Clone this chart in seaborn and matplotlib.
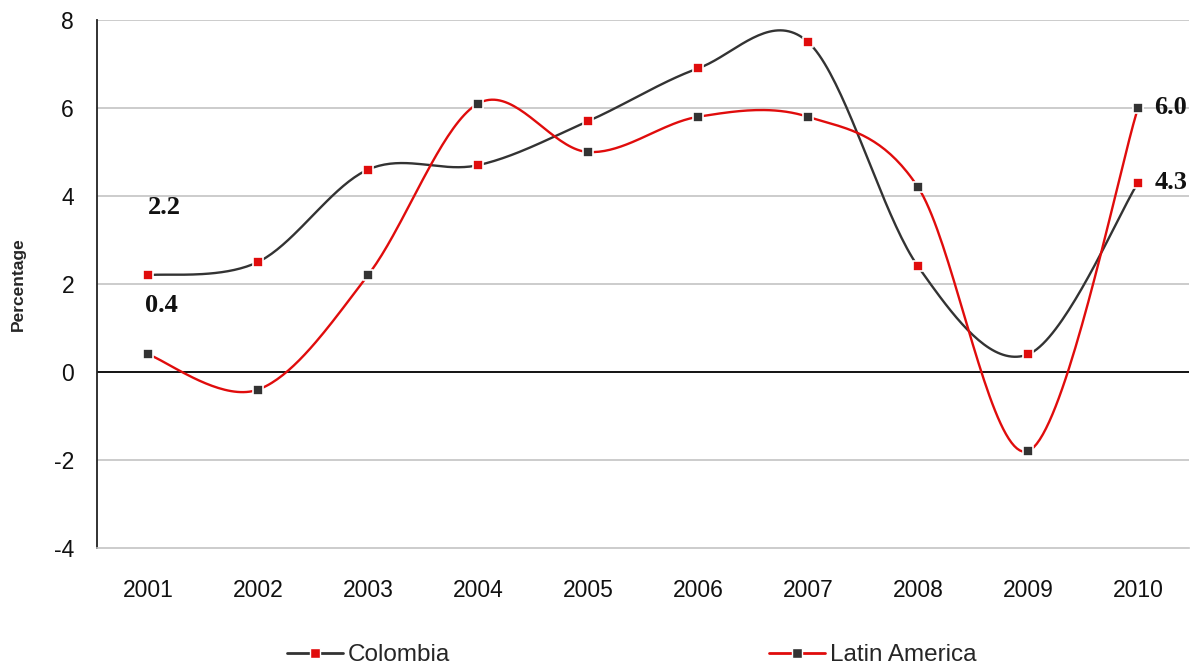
import numpy as np
import pandas as pd
import matplotlib
matplotlib.use("Agg")
import matplotlib.pyplot as plt
from matplotlib.lines import Line2D
import seaborn as sns

# Annual growth, percent
years = [2001, 2002, 2003, 2004, 2005, 2006, 2007, 2008, 2009, 2010]
colombia = [2.2, 2.5, 4.6, 4.7, 5.7, 6.9, 7.5, 2.4, 0.4, 4.3]
latin_america = [0.4, -0.4, 2.2, 6.1, 5.0, 5.8, 5.8, 4.2, -1.8, 6.0]
y_ticks = [-4, -2, 0, 2, 4, 6, 8]

DARK = "#333333"
RED = "#e00c0c"


def smooth_curve(xs, ys, steps=40):
    """Bezier smoothing through the points (Catmull-Rom style tangents)."""
    xs = np.asarray(xs, float)
    ys = np.asarray(ys, float)
    n = len(xs)
    out_x, out_y = [], []
    for i in range(n - 1):
        p0 = np.array([xs[max(i - 1, 0)], ys[max(i - 1, 0)]])
        p1 = np.array([xs[i], ys[i]])
        p2 = np.array([xs[i + 1], ys[i + 1]])
        p3 = np.array([xs[min(i + 2, n - 1)], ys[min(i + 2, n - 1)]])
        c1 = p1 + (p2 - p0) / 6.0
        c2 = p2 - (p3 - p1) / 6.0
        t = np.linspace(0, 1, steps, endpoint=(i == n - 2))[:, None]
        pts = ((1 - t) ** 3) * p1 + 3 * ((1 - t) ** 2) * t * c1 + 3 * (1 - t) * t ** 2 * c2 + t ** 3 * p2
        out_x.extend(pts[:, 0])
        out_y.extend(pts[:, 1])
    return np.array(out_x), np.array(out_y)


sns.set_style("white")
plt.rcParams["font.family"] = ["Liberation Sans", "DejaVu Sans"]

fig = plt.figure(figsize=(12.01, 6.68), dpi=100)
W, H = 1201, 668
ax = fig.add_axes([97 / W, 1 - 548 / H, (1189 - 97) / W, (548 - 20) / H])

pos = np.arange(1, len(years) + 1)

# grid
for v in y_ticks:
    if v == 0:
        ax.axhline(v, color="black", lw=1.3, zorder=1)
    elif v != y_ticks[0]:
        ax.axhline(v, color="#c4c4c4", lw=1.2, zorder=0)

series = [
    ("Colombia", colombia, DARK, RED),
    ("Latin America", latin_america, RED, DARK),
]
for name, vals, line_c, mark_c in series:
    sx, sy = smooth_curve(pos, vals)
    sns.lineplot(x=sx, y=sy, sort=False, color=line_c, lw=1.7, ax=ax, zorder=3,
                 estimator=None)
    df = pd.DataFrame({"pos": pos, "val": vals})
    sns.scatterplot(data=df, x="pos", y="val", marker="s", s=50, color=mark_c,
                    edgecolor="white", linewidth=1.2, ax=ax, zorder=4)

ax.set_xlim(1 - 51 / 110, 10 + 51 / 110)
ax.set_ylim(-4, 8)
ax.set_xticks(pos)
ax.set_xticklabels([str(y) for y in years], fontsize=16.5, color="#111111")
ax.set_yticks(y_ticks)
ax.set_yticklabels([str(v) for v in y_ticks], fontsize=16.5, color="#111111")
ax.tick_params(axis="both", length=0)
ax.tick_params(axis="x", pad=22)
ax.tick_params(axis="y", pad=16.5)
ax.set_xlabel("")
ax.set_ylabel("Percentage", fontsize=12.5, fontweight="bold", labelpad=20)

for side in ["top", "right"]:
    ax.spines[side].set_visible(False)
ax.spines["left"].set_color("#222222")
ax.spines["left"].set_linewidth(1.3)
ax.spines["bottom"].set_color("#c4c4c4")
ax.spines["bottom"].set_linewidth(1.2)

# value labels at the ends
lab_kw = dict(fontsize=19, fontweight="bold", family=["Liberation Serif", "DejaVu Serif"],
              color="#111111", va="center")
ax.text(pos[0], colombia[0] + 1.55, f"{colombia[0]:.1f}", ha="left", **lab_kw)
ax.text(pos[0] - 0.03, latin_america[0] + 1.12, f"{latin_america[0]:.1f}", ha="left", **lab_kw)
ax.text(pos[-1] + 0.15, latin_america[-1], f"{latin_america[-1]:.1f}", ha="left", **lab_kw)
ax.text(pos[-1] + 0.15, colombia[-1], f"{colombia[-1]:.1f}", ha="left", **lab_kw)

# legend
for (name, vals, line_c, mark_c), x0 in zip(series, [287, 769]):
    h = Line2D([], [], color=line_c, lw=2.0, marker="s", markersize=6.5,
               markerfacecolor=mark_c, markeredgecolor="white", markeredgewidth=1)
    fig.legend(handles=[h], labels=[name], loc="center left",
               bbox_to_anchor=(x0 / W, 1 - 655 / H), frameon=False,
               fontsize=17.5, handlelength=2.3, handletextpad=0.2,
               borderpad=0, borderaxespad=0, numpoints=1)

fig.savefig("out.png", dpi=100, facecolor="white")
